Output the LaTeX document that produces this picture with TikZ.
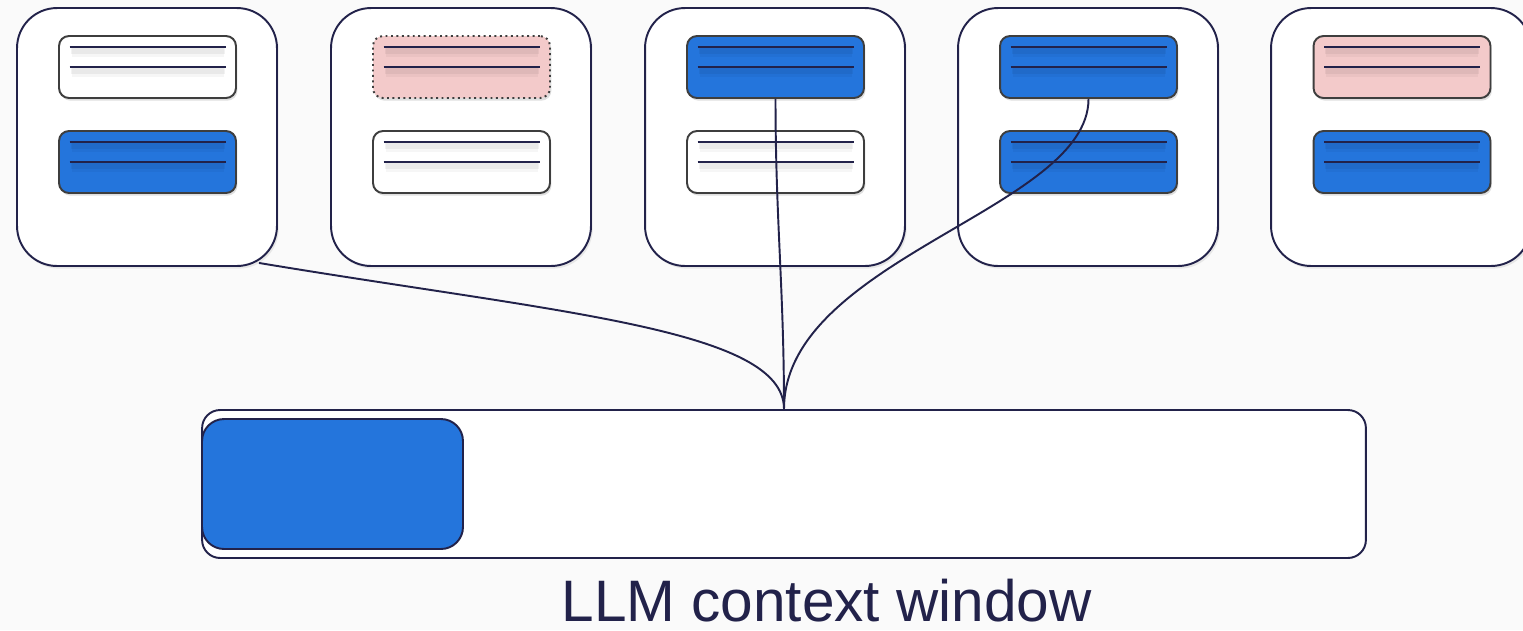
\documentclass[tikz,border=0pt]{standalone}
\usepackage{fontspec}
\setmainfont{Liberation Sans}
\usetikzlibrary{positioning, calc, shadows}
\definecolor{inkline}{RGB}{34,34,74}
\definecolor{boxgray}{RGB}{62,62,62}
\definecolor{chunkblue}{RGB}{36,117,220}
\definecolor{chunkpink}{RGB}{243,202,202}
\definecolor{paper}{RGB}{250,250,250}

\tikzset{
    doccard/.style={draw=inkline, line width=1.1pt, fill=white, rounded corners=0.8cm,
        minimum width=5.2cm, minimum height=5.16cm,
        drop shadow={shadow xshift=1pt, shadow yshift=-1.5pt, opacity=0.15}},
    chunk/.style={draw=boxgray, line width=1.1pt, rounded corners=0.2cm,
        minimum width=3.54cm, minimum height=1.24cm,
        drop shadow={shadow xshift=0.8pt, shadow yshift=-1.5pt, opacity=0.25}},
    plainchunk/.style={chunk, fill=white},
    bluechunk/.style={chunk, fill=chunkblue},
    pinkchunk/.style={chunk, fill=chunkpink},
    dotchunk/.style={chunk, fill=chunkpink, draw=boxgray, dotted},
    link/.style={draw=inkline, line width=1.1pt}
}

% one chunk: two text lines with a faint shadow
\newcommand{\chunklines}[1]{
    \foreach \dy in {12,32} {
        \draw[black, opacity=0.035, line width=6pt] ($(#1.north)+(-76,\dy+5)$) -- ($(#1.north)+(76,\dy+5)$);
        \draw[black, opacity=0.05, line width=3pt] ($(#1.north)+(-77,\dy+4)$) -- ($(#1.north)+(77,\dy+4)$);
        \draw[inkline, line width=1.2pt] ($(#1.north)+(-78,\dy)$) -- ($(#1.north)+(78,\dy)$);
    }
}

\begin{document}
\begin{tikzpicture}[x=0.02cm, y=-0.02cm]
        \useasboundingbox (0,0) rectangle (1523,630);
        \clip (0,0) rectangle (1523,630);
        \fill[paper] (0,0) rectangle (1523,630);

        % Documents
        \node[doccard] (card1) at (147,137) {};
        \node[doccard] (card2) at (461,137) {};
        \node[doccard] (card3) at (775,137) {};
        \node[doccard] (card4) at (1088,137) {};
        \node[doccard] (card5) at (1401,137) {};

        % Chunks
        \node[plainchunk] (chunk1a) at (147.5,67) {};
        \node[bluechunk]  (chunk1b) at (147.5,162) {};
        \node[dotchunk]   (chunk2a) at (461.5,67) {};
        \node[plainchunk] (chunk2b) at (461.5,162) {};
        \node[bluechunk]  (chunk3a) at (775.5,67) {};
        \node[plainchunk] (chunk3b) at (775.5,162) {};
        \node[bluechunk]  (chunk4a) at (1088.5,67) {};
        \node[bluechunk]  (chunk4b) at (1088.5,162) {};
        \node[pinkchunk]  (chunk5a) at (1402,67) {};
        \node[bluechunk]  (chunk5b) at (1402,162) {};

        \foreach \c in {chunk1a,chunk1b,chunk2a,chunk2b,chunk3a,chunk3b,chunk4a,chunk4b,chunk5a,chunk5b} {
            \chunklines{\c}
        }

        % Context window
        \node[draw=inkline, line width=1.1pt, fill=white, rounded corners=0.36cm,
            minimum width=23.28cm, minimum height=2.96cm] (window) at (784,484) {};
        \node[draw=inkline, line width=1.1pt, fill=chunkblue, rounded corners=0.44cm,
            minimum width=5.22cm, minimum height=2.6cm] (filled) at (332.5,484) {};
        \node[anchor=base, inner sep=0pt, text=inkline, font=\fontsize{33.3}{40}\selectfont] (label) at (826.5,621) {LLM context window};

        % Retrieval links
        \coordinate (card1out) at ($(card1.south east)+(-19,-4)$);
        \draw[link] (card1out) .. controls +(300,50) and +(0,-80) .. (window.north);
        \draw[link] (chunk3a.south) .. controls +(0,120) and +(0,-120) .. (window.north);
        \draw[link] (chunk4a.south) .. controls +(0,110) and +(0,-150) .. (window.north);
    \end{tikzpicture}
\end{document}
